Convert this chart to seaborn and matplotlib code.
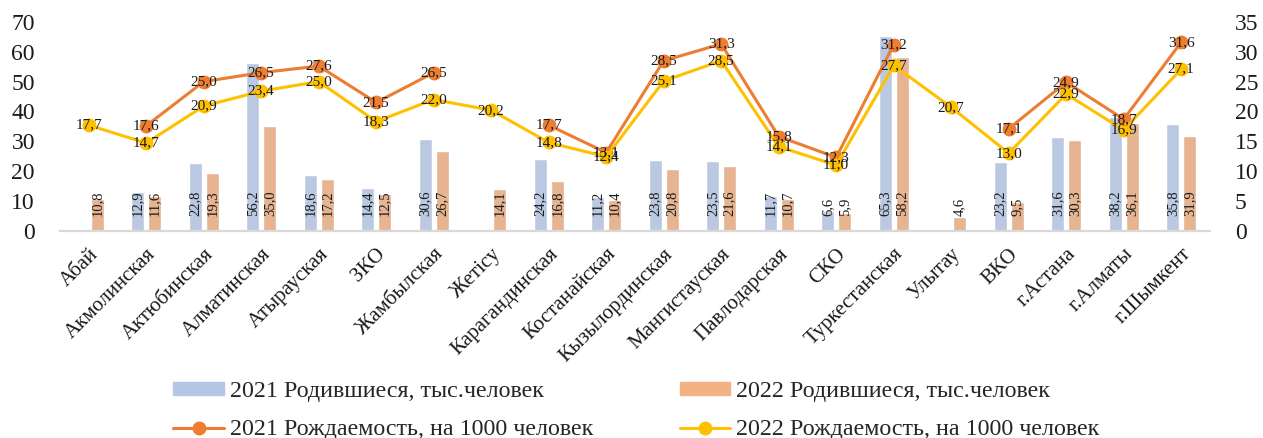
import matplotlib

matplotlib.use("Agg")
import matplotlib.pyplot as plt
import numpy as np
import pandas as pd
import seaborn as sns
from matplotlib.lines import Line2D
from matplotlib.patches import Patch

regions = [
    "Абай", "Акмолинская", "Актюбинская", "Алматинская", "Атырауская", "ЗКО",
    "Жамбылская", "Жетiсу", "Карагандинская", "Костанайская", "Кызылординская",
    "Мангистауская", "Павлодарская", "СКО", "Туркестанская", "Улытау", "ВКО",
    "г.Астана", "г.Алматы", "г.Шымкент",
]
births_2021 = [np.nan, 12.9, 22.8, 56.2, 18.6, 14.4, 30.6, np.nan, 24.2, 11.2,
               23.8, 23.5, 11.7, 6.6, 65.3, np.nan, 23.2, 31.6, 38.2, 35.8]
births_2022 = [10.8, 11.6, 19.3, 35.0, 17.2, 12.5, 26.7, 14.1, 16.8, 10.4,
               20.8, 21.6, 10.7, 5.9, 58.2, 4.6, 9.5, 30.3, 36.1, 31.9]
rate_2021 = [np.nan, 17.6, 25.0, 26.5, 27.6, 21.5, 26.5, np.nan, 17.7, 13.1,
             28.5, 31.3, 15.8, 12.3, 31.2, np.nan, 17.1, 24.9, 18.7, 31.6]
rate_2022 = [17.7, 14.7, 20.9, 23.4, 25.0, 18.3, 22.0, 20.2, 14.8, 12.4,
             25.1, 28.5, 14.1, 11.0, 27.7, 20.7, 13.0, 22.9, 16.9, 27.1]

labels = [
    "2021 Родившиеся, тыс.человек",
    "2022 Родившиеся, тыс.человек",
    "2021 Рождаемость, на 1000 человек",
    "2022 Рождаемость, на 1000 человек",
]

BLUE = "#B4C7E7"
PEACH = "#F4B183"
ORANGE = "#ED7D31"
YELLOW = "#FFC000"
TEXT = "#1a1a1a"


def fmt(v):
    return f"{v:.1f}".replace(".", ",")


def main():
    sns.set_style("white")
    plt.rcParams["font.family"] = ["Liberation Serif", "DejaVu Serif"]

    n = len(regions)
    df = pd.DataFrame({
        "region": regions * 2,
        "year": ["2021"] * n + ["2022"] * n,
        "births": births_2021 + births_2022,
    }).dropna()

    fig, ax = plt.subplots(figsize=(12.63, 4.38), dpi=100)
    fig.subplots_adjust(left=0.0475, right=0.958, bottom=0.473, top=0.95)

    sns.barplot(data=df, x="region", y="births", hue="year", order=regions,
                hue_order=["2021", "2022"], palette=[BLUE, PEACH],
                width=0.58, gap=0.22, legend=False, ax=ax)

    # labels at the base of the bars, rotated
    for p in ax.patches:
        h = p.get_height()
        if np.isnan(h):
            continue
        ax.annotate(fmt(h), (p.get_x() + p.get_width() / 2, 0), xytext=(0, 11),
                    textcoords="offset points", rotation=90, ha="center",
                    va="bottom", fontsize=10.5, color=TEXT)

    ax.set_ylim(0, 70)
    ax.set_xlim(-0.5, n - 0.5)
    ax.set_yticks(range(0, 71, 10))
    ax.set_xlabel("")
    ax.set_ylabel("")
    pos = ax.get_xticks()
    ax.set_xticks(pos)
    ax.set_xticklabels(regions, rotation=45, ha="right", rotation_mode="anchor",
                       fontsize=15, color=TEXT)
    ax.tick_params(axis="x", length=0, pad=10)
    ax.tick_params(axis="y", length=0, pad=18, labelsize=17, labelcolor=TEXT)
    for s in ["top", "left", "right"]:
        ax.spines[s].set_visible(False)
    ax.spines["bottom"].set_color("#D9D9D9")
    ax.spines["bottom"].set_linewidth(1.6)

    ax2 = ax.twinx()
    for vals, col in [(rate_2021, ORANGE), (rate_2022, YELLOW)]:
        ax2.plot(pos, vals, color=col, lw=2.2, marker="o", ms=9)
    for vals in [rate_2021, rate_2022]:
        for xi, v in zip(pos, vals):
            if np.isnan(v):
                continue
            ax2.text(xi, v, fmt(v), ha="center", va="center", fontsize=11,
                     color=TEXT)
    ax2.set_ylim(0, 35)
    ax2.set_yticks(range(0, 36, 5))
    ax2.tick_params(axis="y", length=0, pad=18, labelsize=17, labelcolor=TEXT)
    for s in ax2.spines.values():
        s.set_visible(False)

    handles = [
        Patch(color=BLUE),
        Line2D([], [], color=ORANGE, lw=2.2, marker="o", ms=9),
        Patch(color=PEACH),
        Line2D([], [], color=YELLOW, lw=2.2, marker="o", ms=9),
    ]
    fig.legend(handles, [labels[0], labels[2], labels[1], labels[3]], ncol=2,
               loc="center", bbox_to_anchor=(0.504, 0.062), frameon=False,
               fontsize=17.3, handlelength=2.1, handleheight=0.42,
               handletextpad=0.25, columnspacing=3.6, labelspacing=0.72)

    fig.savefig("out.png", dpi=100)


if __name__ == "__main__":
    main()
